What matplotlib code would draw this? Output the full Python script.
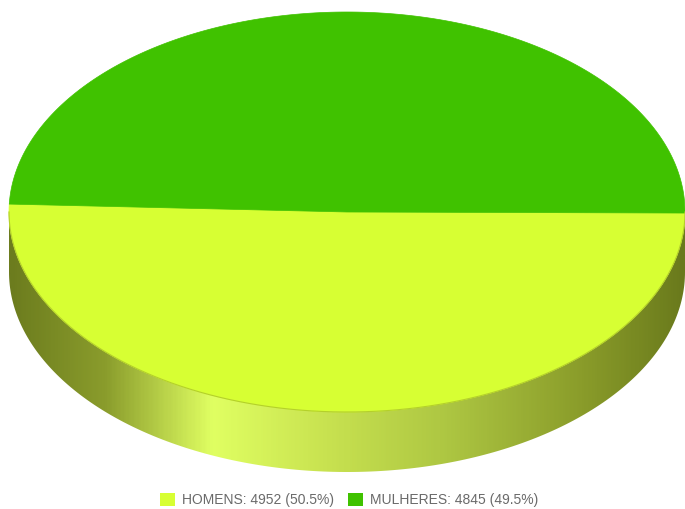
import numpy as np
import matplotlib.pyplot as plt
from matplotlib.patches import Polygon, Patch
from matplotlib.colors import LinearSegmentedColormap

# data
names = ['HOMENS', 'MULHERES']
values = [4952, 4845]
colors = ['#d7ff33', '#40c200']

total = sum(values)
labels = [f'{n}: {v} ({v / total * 100:.1f}%)' for n, v in zip(names, values)]

# geometry of the 3d pie (pixel coords, y down)
cx, cy = 347, 212
rx, ry = 338, 200
depth = 60
start = 0.3  # degrees, yellow starts on the right and goes through the front


def rim(t0, t1, n=200, dy=0):
    t = np.radians(np.linspace(t0, t1, n))
    return np.column_stack([cx + rx * np.cos(t), cy + ry * np.sin(t) + dy])


fig = plt.figure(figsize=(6.85, 5.09), dpi=100)
ax = fig.add_axes([0, 0, 1, 1])
ax.set_xlim(0, 685)
ax.set_ylim(509, 0)
ax.axis('off')

# side wall (front half) with horizontal shading
top = rim(0, 180)
bot = rim(180, 0, dy=depth)
side = Polygon(np.vstack([top, bot]), closed=True, facecolor='none', edgecolor='none')
ax.add_patch(side)
shade = LinearSegmentedColormap.from_list('side', [
    (0.00, '#6c7c1e'), (0.14, '#8a9c2c'), (0.30, '#e0ff62'),
    (0.47, '#c8e250'), (0.65, '#adc642'), (0.85, '#8a9c2a'), (1.00, '#6a7a1c')])
grad = np.linspace(0, 1, 400).reshape(1, -1)
im = ax.imshow(grad, cmap=shade, aspect='auto',
               extent=[cx - rx, cx + rx, cy + ry + depth + 2, cy - 5], zorder=1)
im.set_clip_path(side)

# top face slices
angle = start
for v, c in zip(values, colors):
    sweep = v / total * 360
    pts = np.vstack([[cx, cy], rim(angle, angle + sweep)])
    ax.add_patch(Polygon(pts, closed=True, facecolor=c, edgecolor=c, lw=0.5, zorder=2))
    angle += sweep

# faint edge where the top meets the side
edge = rim(0, 180)
ax.plot(edge[:, 0], edge[:, 1], color='#b4d02a', lw=0.8, zorder=3)

# legend
handles = [Patch(facecolor=c, edgecolor='none') for c in colors]
ax.legend(handles, labels, loc='center', bbox_to_anchor=(349 / 685, 1 - 500 / 509),
          ncol=2, frameon=False, handlelength=1.1, handleheight=1.1,
          handletextpad=0.5, columnspacing=1.0, labelcolor='#6a6a6a',
          prop={'family': 'Liberation Sans', 'size': 10})

fig.savefig('out.png', dpi=100)
